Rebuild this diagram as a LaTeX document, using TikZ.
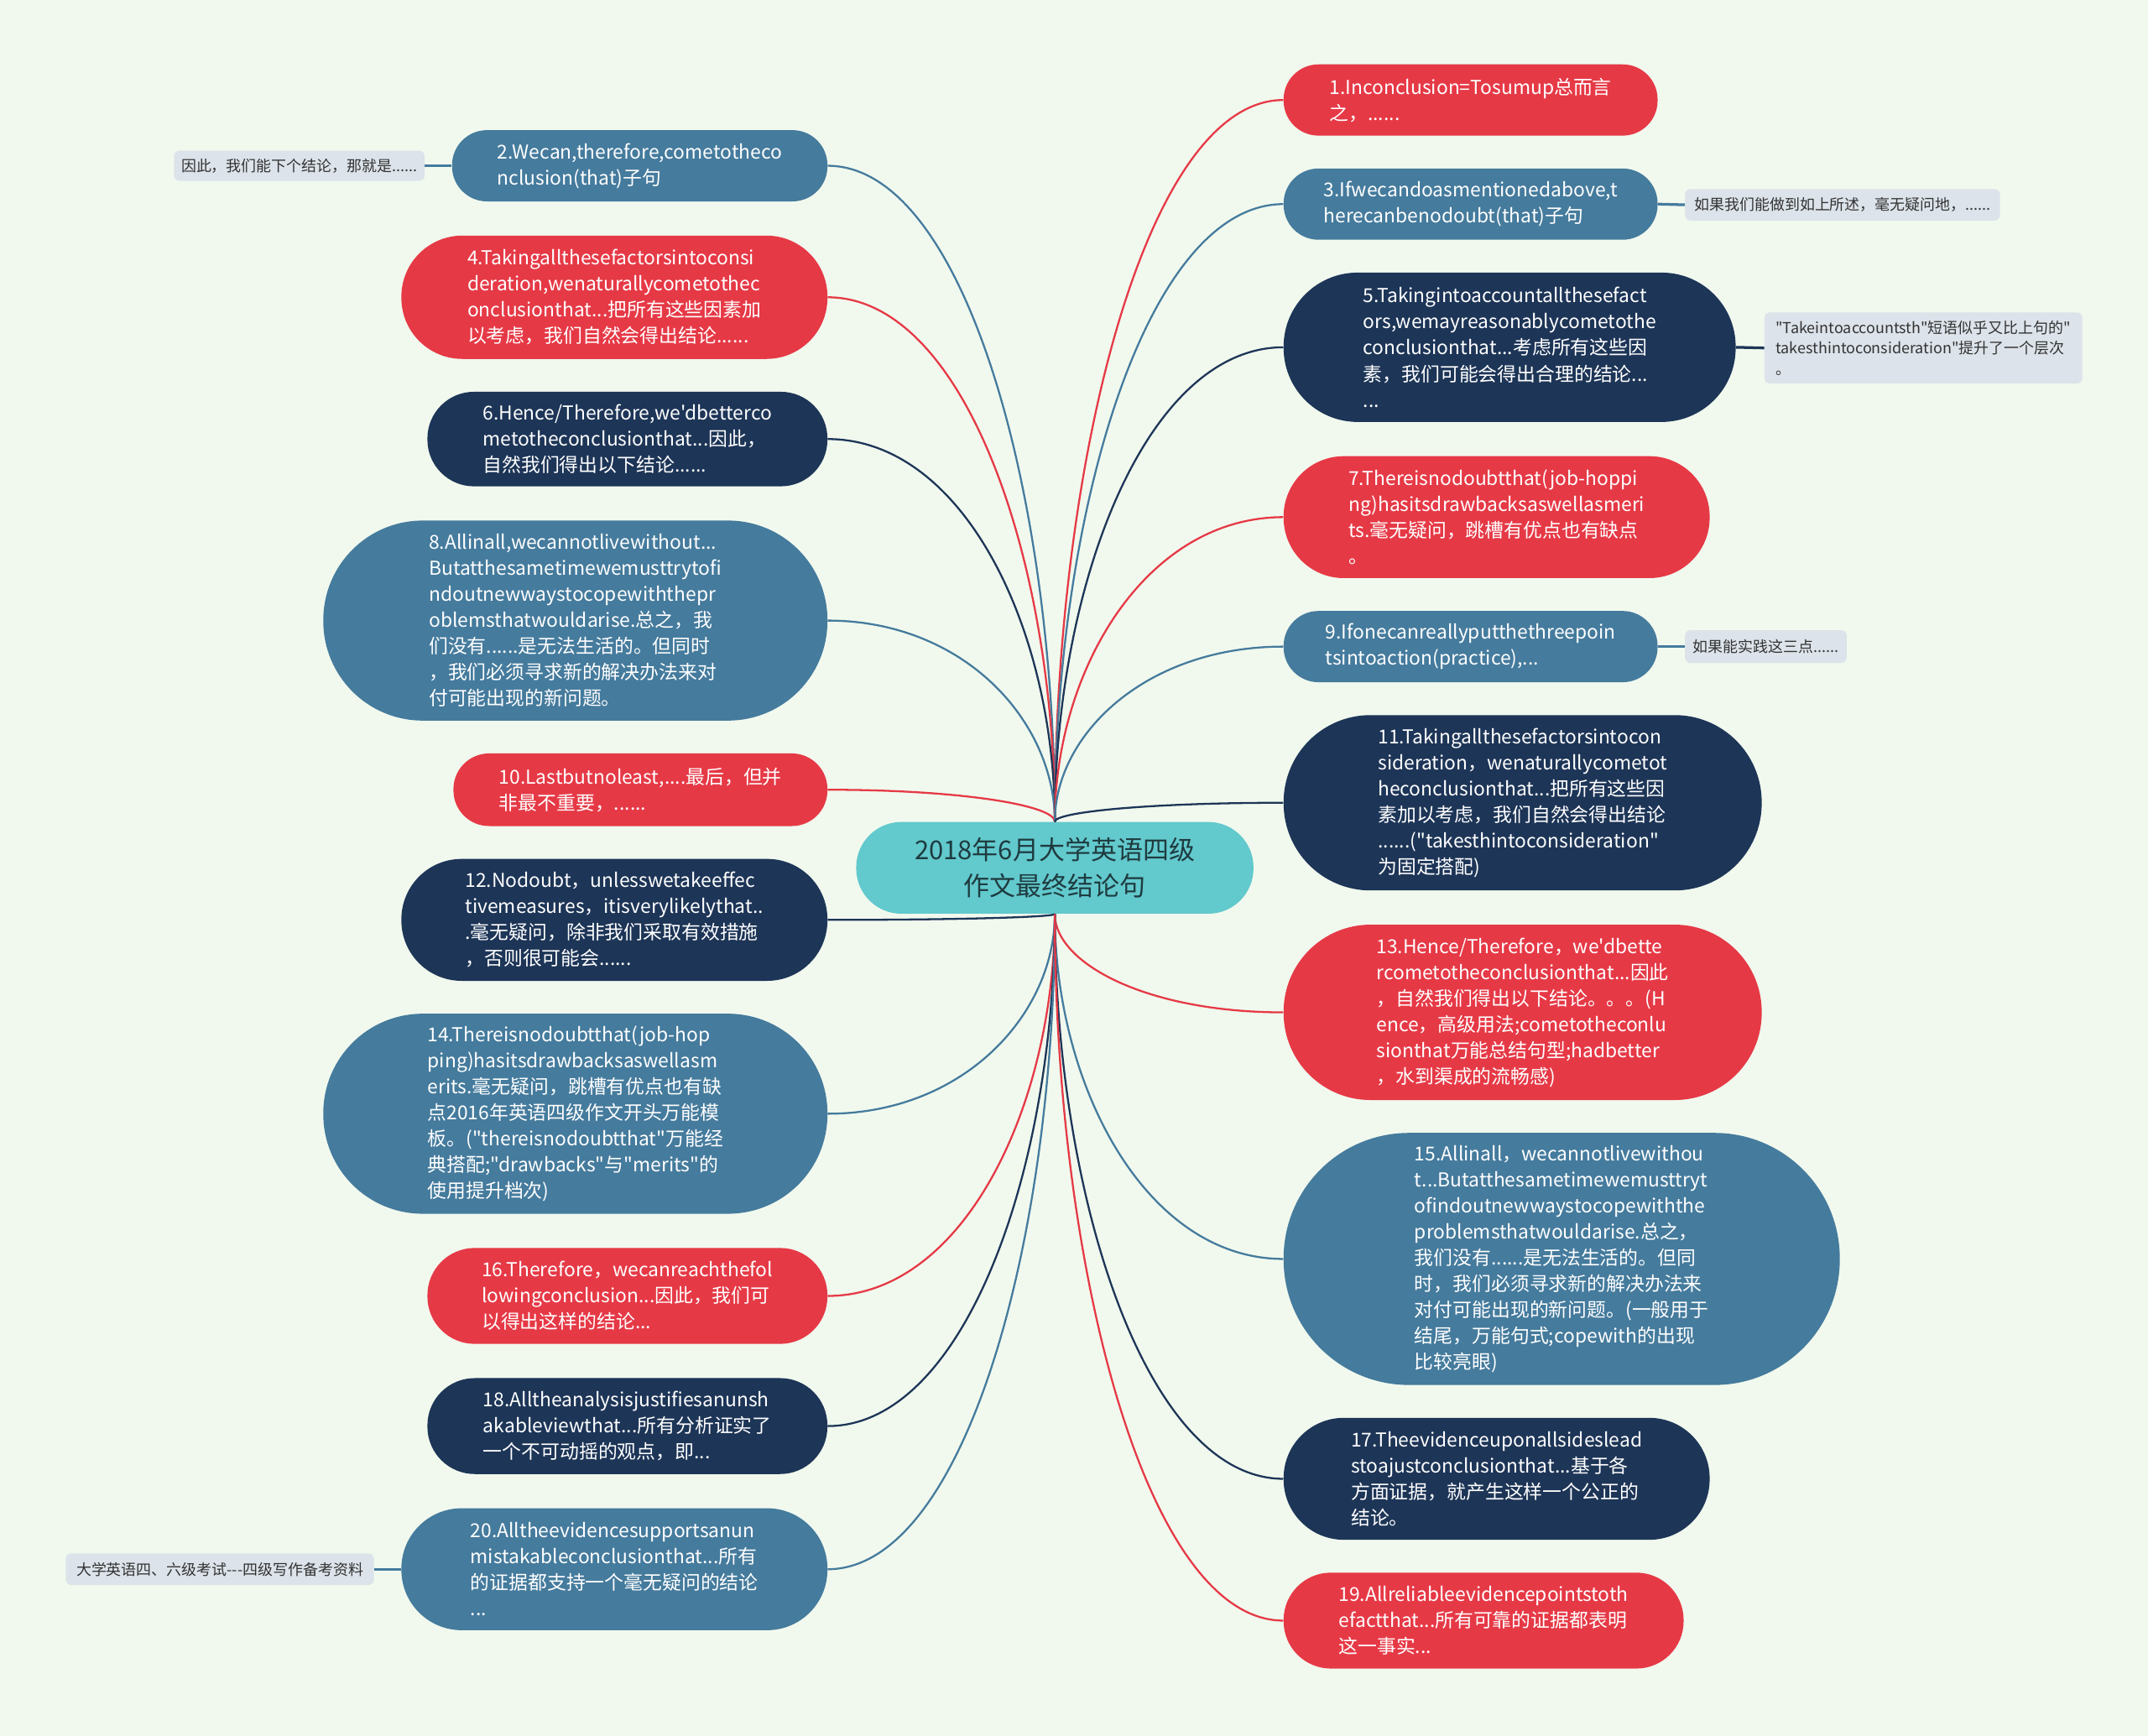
\documentclass[tikz,border=0pt]{standalone}
\usepackage{fontspec}
\newfontfamily\zhfont{Noto Sans CJK SC}
\usetikzlibrary{calc}
\definecolor{bgfill}{HTML}{F1F9EE}
\definecolor{hubfill}{HTML}{62C9CD}
\definecolor{hubtext}{HTML}{1E3B3F}
\definecolor{crimson}{HTML}{E63946}
\definecolor{steel}{HTML}{457B9D}
\definecolor{navy}{HTML}{1D3557}
\definecolor{memofill}{HTML}{DCE3EA}
\definecolor{memotext}{HTML}{333333}

\begin{document}
\begin{tikzpicture}[
      x=1pt, y=-1pt,
      font=\zhfont,
      hub/.style={fill=hubfill, text=hubtext, align=center, inner sep=0pt,
                  minimum width=290pt, minimum height=67pt, rounded corners=33pt,
                  font=\zhfont\fontsize{19}{26}\selectfont},
      topic/.style={inner sep=0pt, align=left, text=white,
                    font=\zhfont\fontsize{14}{19}\selectfont},
      dims/.style 2 args={minimum width=#1pt, minimum height=#2pt,
                          rounded corners={(#2/2-0.5)*1pt}},
      memo/.style={fill=memofill, text=memotext, rounded corners=4pt, inner sep=0pt,
                   align=left, font=\zhfont\fontsize{11}{15}\selectfont},
      link/.style={line width=1.4pt},
      tie/.style={line width=2pt},
      branch/.style={to path={.. controls ($(\tikztostart)!0.5!(\tikztostart|-\tikztotarget)$)
                     and ($(\tikztotarget)!0.6!(\tikztostart|-\tikztotarget)$) .. (\tikztotarget)}}
    ]

    \fill[bgfill] (0,0) rectangle (1568,1267);

    \node[hub] (root) at (770,633.5) {2018年6月大学英语四级\\作文最终结论句};

    % left branches
    \node[topic, fill=steel, dims={274}{52}] (n2) at (467,121)
      {2.Wecan,therefore,cometotheco\\nclusion(that)子句};
    \node[topic, fill=crimson, dims={311}{90}] (n4) at (448.5,217)
      {4.Takingallthesefactorsintoconsi\\deration,wenaturallycometothec\\onclusionthat...把所有这些因素加\\以考虑，我们自然会得出结论......};
    \node[topic, fill=navy, dims={292}{69}] (n6) at (458,320.5)
      {6.Hence/Therefore,we'dbetterco\\metotheconclusionthat...因此，\\自然我们得出以下结论......};
    \node[topic, fill=steel, dims={368}{146}] (n8) at (420,453)
      {8.Allinall,wecannotlivewithout...\\Butatthesametimewemusttrytofi\\ndoutnewwaystocopewiththepr\\oblemsthatwouldarise.总之，我\\们没有......是无法生活的。但同时\\，我们必须寻求新的解决办法来对\\付可能出现的新问题。};
    \node[topic, fill=crimson, dims={273}{53}] (n10) at (467.5,576.5)
      {10.Lastbutnoleast,....最后，但并\\非最不重要，......};
    \node[topic, fill=navy, dims={311}{89}] (n12) at (448.5,671.5)
      {12.Nodoubt，unlesswetakeeffec\\tivemeasures，itisverylikelythat..\\.毫无疑问，除非我们采取有效措施\\，否则很可能会......};
    \node[topic, fill=steel, dims={368}{146}] (n14) at (420,813)
      {14.Thereisnodoubtthat(job-hop\\ping)hasitsdrawbacksaswellasm\\erits.毫无疑问，跳槽有优点也有缺\\点2016年英语四级作文开头万能模\\板。("thereisnodoubtthat"万能经\\典搭配;"drawbacks"与"merits"的\\使用提升档次)};
    \node[topic, fill=crimson, dims={292}{70}] (n16) at (458,946)
      {16.Therefore，wecanreachthefol\\lowingconclusion...因此，我们可\\以得出这样的结论...};
    \node[topic, fill=navy, dims={292}{70}] (n18) at (458,1041)
      {18.Alltheanalysisjustifiesanunsh\\akableviewthat...所有分析证实了\\一个不可动摇的观点，即...};
    \node[topic, fill=steel, dims={311}{89}] (n20) at (448.5,1145.5)
      {20.Alltheevidencesupportsanun\\mistakableconclusionthat...所有\\的证据都支持一个毫无疑问的结论\\...};

    % right branches
    \node[topic, fill=crimson, dims={273}{52}] (n1) at (1073.5,73)
      {1.Inconclusion=Tosumup总而言\\之，......};
    \node[topic, fill=steel, dims={273}{52}] (n3) at (1073.5,149)
      {3.Ifwecandoasmentionedabove,t\\herecanbenodoubt(that)子句};
    \node[topic, fill=navy, dims={330}{109}] (n5) at (1102,253.5)
      {5.Takingintoaccountallthesefact\\ors,wemayreasonablycometothe\\conclusionthat...考虑所有这些因\\素，我们可能会得出合理的结论...\\...};
    \node[topic, fill=crimson, dims={311}{89}] (n7) at (1092.5,377.5)
      {7.Thereisnodoubtthat(job-hoppi\\ng)hasitsdrawbacksaswellasmeri\\ts.毫无疑问，跳槽有优点也有缺点\\。};
    \node[topic, fill=steel, dims={273}{52}] (n9) at (1073.5,472)
      {9.Ifonecanreallyputthethreepoin\\tsintoaction(practice),...};
    \node[topic, fill=navy, dims={349}{128}] (n11) at (1111.5,586)
      {11.Takingallthesefactorsintocon\\sideration，wenaturallycometot\\heconclusionthat...把所有这些因\\素加以考虑，我们自然会得出结论\\......("takesthintoconsideration"\\为固定搭配)};
    \node[topic, fill=crimson, dims={349}{128}] (n13) at (1111.5,739)
      {13.Hence/Therefore，we'dbette\\rcometotheconclusionthat...因此\\，自然我们得出以下结论。。。(H\\ence，高级用法;cometotheconlu\\sionthat万能总结句型;hadbetter\\，水到渠成的流畅感)};
    \node[topic, fill=steel, dims={406}{184}] (n15) at (1140,919)
      {15.Allinall，wecannotlivewithou\\t...Butatthesametimewemusttryt\\ofindoutnewwaystocopewiththe\\problemsthatwouldarise.总之，\\我们没有......是无法生活的。但同\\时，我们必须寻求新的解决办法来\\对付可能出现的新问题。(一般用于\\结尾，万能句式;copewith的出现\\比较亮眼)};
    \node[topic, fill=navy, dims={311}{89}] (n17) at (1092.5,1079.5)
      {17.Theevidenceuponallsideslead\\stoajustconclusionthat...基于各\\方面证据，就产生这样一个公正的\\结论。};
    \node[topic, fill=crimson, dims={292}{70}] (n19) at (1083,1183)
      {19.Allreliableevidencepointstoth\\efactthat...所有可靠的证据都表明\\这一事实...};

    % side notes
    \node[memo, minimum width=183pt, minimum height=22pt] (nt2) at (218.5,121)
      {因此，我们能下个结论，那就是......};
    \node[memo, minimum width=225pt, minimum height=23pt] (nt20) at (160.5,1145.5)
      {大学英语四、六级考试---四级写作备考资料};
    \node[memo, minimum width=230pt, minimum height=23pt] (nt3) at (1345,149.5)
      {如果我们能做到如上所述，毫无疑问地，......};
    \node[memo, minimum width=232pt, minimum height=52pt] (nt5) at (1404,254)
      {"Takeintoaccountsth"短语似乎又比上句的"\\takesthintoconsideration"提升了一个层次\\。};
    \node[memo, minimum width=118pt, minimum height=24pt] (nt9) at (1289,472)
      {如果能实践这三点......};

    % connectors
    \draw[link, steel]   (root.north) to[branch] (n2.east);
    \draw[link, crimson] (root.north) to[branch] (n4.east);
    \draw[link, navy]    (root.north) to[branch] (n6.east);
    \draw[link, steel]   (root.north) to[branch] (n8.east);
    \draw[link, crimson] (root.north) to[branch] (n10.east);
    \draw[link, navy]    (root.south) to[branch] (n12.east);
    \draw[link, steel]   (root.south) to[branch] (n14.east);
    \draw[link, crimson] (root.south) to[branch] (n16.east);
    \draw[link, navy]    (root.south) to[branch] (n18.east);
    \draw[link, steel]   (root.south) to[branch] (n20.east);

    \draw[link, crimson] (root.north) to[branch] (n1.west);
    \draw[link, steel]   (root.north) to[branch] (n3.west);
    \draw[link, navy]    (root.north) to[branch] (n5.west);
    \draw[link, crimson] (root.north) to[branch] (n7.west);
    \draw[link, steel]   (root.north) to[branch] (n9.west);
    \draw[link, navy]    (root.north) to[branch] (n11.west);
    \draw[link, crimson] (root.south) to[branch] (n13.west);
    \draw[link, steel]   (root.south) to[branch] (n15.west);
    \draw[link, navy]    (root.south) to[branch] (n17.west);
    \draw[link, crimson] (root.south) to[branch] (n19.west);

    \draw[tie, steel] (nt2.east) -- (n2.west);
    \draw[tie, steel] (nt20.east) -- (n20.west);
    \draw[tie, steel] (n3.east) -- (nt3.west);
    \draw[tie, navy]  (n5.east) -- (nt5.west);
    \draw[tie, steel] (n9.east) -- (nt9.west);

  \end{tikzpicture}
\end{document}
